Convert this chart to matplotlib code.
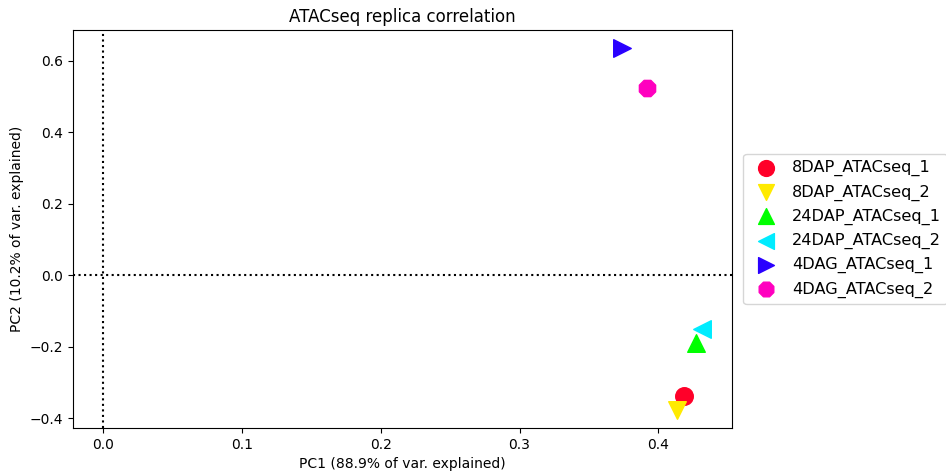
import numpy as np
import matplotlib
matplotlib.use("Agg")
import matplotlib.pyplot as plt

samples = ["8DAP_ATACseq_1", "8DAP_ATACseq_2", "24DAP_ATACseq_1",
           "24DAP_ATACseq_2", "4DAG_ATACseq_1", "4DAG_ATACseq_2"]
pc1 = [0.4186, 0.4136, 0.4272, 0.4315, 0.3735, 0.3914]
pc2 = [-0.336, -0.376, -0.188, -0.149, 0.636, 0.524]
markers = ["o", "v", "^", "<", ">", "8"]

colors = plt.cm.gist_rainbow(np.linspace(0, 1, len(samples)))

fig = plt.figure(figsize=(9.46, 4.75), dpi=100)
ax = fig.add_axes([0.077, 0.099, 0.697, 0.838])
ax.axhline(0, color="black", linestyle=":")
ax.axvline(0, color="black", linestyle=":")
for s, x, y, m, c in zip(samples, pc1, pc2, markers, colors):
    ax.scatter(x, y, marker=m, color=c, s=160, label=s)

ax.set_title("ATACseq replica correlation")
ax.set_xlabel("PC1 (88.9% of var. explained)")
ax.set_ylabel("PC2 (10.2% of var. explained)")
ax.legend(loc="center left", bbox_to_anchor=(1.0, 0.5), fontsize=11.6,
          borderaxespad=0.7, handletextpad=0.6, markerscale=0.9)
fig.savefig("out.png", dpi=100)
